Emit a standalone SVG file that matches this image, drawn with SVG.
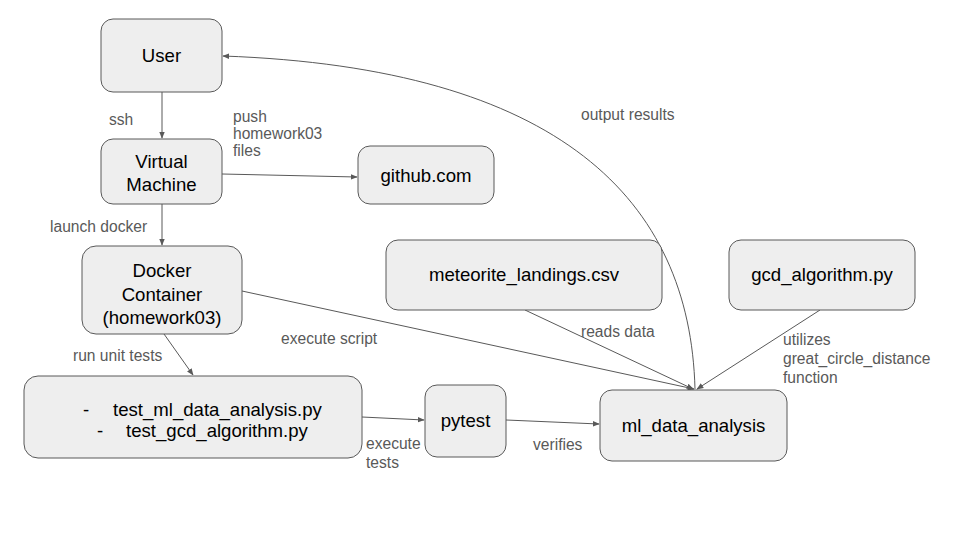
<svg xmlns="http://www.w3.org/2000/svg" width="960" height="540" viewBox="0 0 960 540">
<defs>
<marker id="ah" viewBox="0 0 10 10" refX="9" refY="5" markerWidth="7" markerHeight="7" orient="auto" markerUnits="userSpaceOnUse">
<path d="M0,1 L10,5 L0,9 z" fill="#595959"/>
</marker>
<style>
.n{fill:#eeeeee;stroke:#595959;stroke-width:1}
.t{font-family:"Liberation Sans",Arial,sans-serif;font-size:18.6px;fill:#000;text-anchor:middle}
.e{fill:none;stroke:#595959;stroke-width:1;marker-end:url(#ah)}
.l{font-family:"Liberation Sans",Arial,sans-serif;font-size:15.6px;fill:#595959}
</style>
</defs>
<rect width="960" height="540" fill="#fff"/>
<g id="connectors">
<path class="e" d="M162,92 L162,138"/>
<path class="e" d="M222,174 L357,177"/>
<path class="e" d="M162,204 L162,245"/>
<path class="e" d="M164,334 L193,375"/>
<path class="e" d="M242,291 L694,389"/>
<path class="e" d="M362,417 L424,420"/>
<path class="e" d="M506,420 L599,424"/>
<path class="e" d="M525,310 L693,389"/>
<path class="e" d="M820,310 L697,389"/>
<path class="e" d="M695,389 C690,200 560,68 223,56"/>
<text class="l" x="109" y="125">ssh</text>
<text class="l" x="233" y="122">push</text>
<text class="l" x="233" y="139">homework03</text>
<text class="l" x="233" y="156">files</text>
<text class="l" x="50" y="232">launch docker</text>
<text class="l" x="73" y="361">run unit tests</text>
<text class="l" x="281" y="344">execute script</text>
<text class="l" x="581" y="120">output results</text>
<text class="l" x="581" y="337">reads data</text>
<text class="l" x="783" y="345">utilizes</text>
<text class="l" x="783" y="364">great_circle_distance</text>
<text class="l" x="783" y="383">function</text>
<text class="l" x="366" y="449">execute</text>
<text class="l" x="366" y="468">tests</text>
<text class="l" x="533" y="450">verifies</text>
</g>
<g id="user"><rect class="n" x="101" y="19" width="121" height="73" rx="12"/><text class="t" x="161.5" y="62">User</text></g>
<g id="vm"><rect class="n" x="101" y="139" width="121" height="65" rx="12"/><text class="t" x="161.5" y="168">Virtual</text><text class="t" x="161.5" y="191">Machine</text></g>
<g id="github"><rect class="n" x="358" y="146" width="136" height="58" rx="12"/><text class="t" x="426" y="182">github.com</text></g>
<g id="docker"><rect class="n" x="82" y="246" width="160" height="88" rx="14"/><text class="t" x="162" y="277">Docker</text><text class="t" x="162" y="301">Container</text><text class="t" x="162" y="324">(homework03)</text></g>
<g id="meteorite"><rect class="n" x="386" y="240" width="276" height="70" rx="12"/><text class="t" x="524" y="281">meteorite_landings.csv</text></g>
<g id="gcd"><rect class="n" x="729" y="240" width="186" height="70" rx="12"/><text class="t" x="822" y="281">gcd_algorithm.py</text></g>
<g id="tests"><rect class="n" x="24" y="376" width="338" height="82" rx="14"/><text class="t" style="text-anchor:start"><tspan x="83" y="416">-</tspan><tspan x="113" y="416">test_ml_data_analysis.py</tspan><tspan x="97" y="437">-</tspan><tspan x="126" y="437">test_gcd_algorithm.py</tspan></text></g>
<g id="pytest"><rect class="n" x="425" y="385" width="81" height="72" rx="12"/><text class="t" x="465.5" y="427">pytest</text></g>
<g id="ml"><rect class="n" x="600" y="390" width="187" height="71" rx="12"/><text class="t" x="693.5" y="432">ml_data_analysis</text></g>
</svg>
